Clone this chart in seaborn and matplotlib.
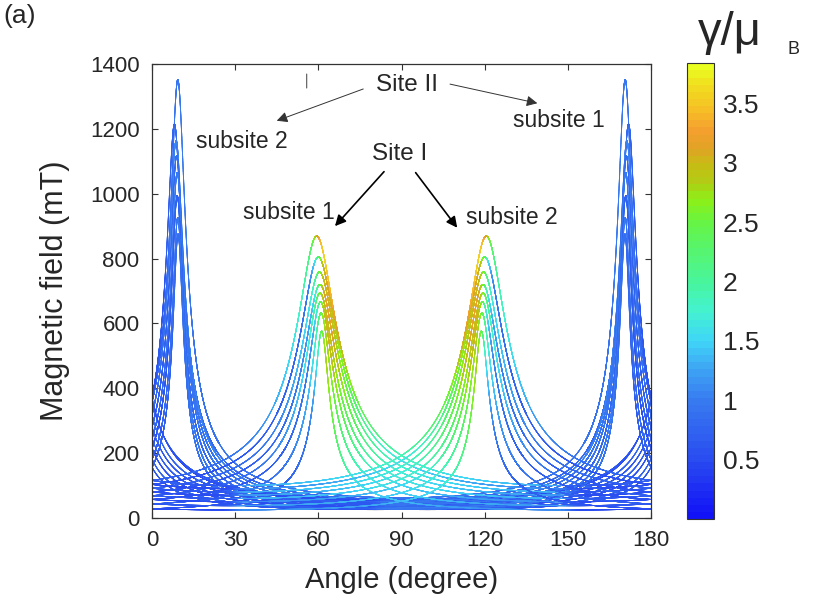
import numpy as np
import pandas as pd
import matplotlib
matplotlib.use("Agg")
import matplotlib.pyplot as plt
import seaborn as sns
from matplotlib.colors import LinearSegmentedColormap, Normalize
from matplotlib.cm import ScalarMappable

# Site I, subsite 1 (peaks near 60 deg). Subsite 2 is its mirror image near 120 deg.
site1_center = [59.4, 60.0, 60.4, 60.6, 60.6, 60.8, 61.0, 61.2]
site1_peak = [869, 805, 758, 720, 694, 666, 632, 576]
site1_floor = [100, 90, 80, 70, 60, 50, 38, 25]
# gamma/muB: at the peak and at the floor, on the outer side
# (away from 90 deg) and the inner side (towards 90 deg)
site1_g_peak_out = [2.1, 1.0, 1.7, 1.3, 1.9, 1.2, 1.7, 1.4]
site1_g_peak_in = [3.84, 3.4, 3.3, 3.6, 3.3, 3.5, 3.2, 3.4]
site1_g_floor_out = [0.6, 0.5, 0.6, 0.5, 0.6, 0.5, 0.6, 0.5]
site1_g_floor_in = [1.3, 1.1, 1.3, 1.2, 1.3, 1.1, 1.2, 1.1]

# Site II, subsite 2 (peaks near 9 deg). Subsite 1 is its mirror image near 171 deg.
site2_center = [9.3, 8.1, 8.7, 8.9, 9.1, 9.1, 9.3, 9.4]
site2_peak = [1351, 1214, 1163, 1117, 1065, 993, 926, 875]
site2_floor = [60, 55, 50, 45, 40, 35, 30, 26]
site2_g_peak_out = [0.9, 0.7, 1.0, 0.8, 1.0, 0.7, 0.9, 0.8]
site2_g_peak_in = [1.0, 0.9, 1.1, 0.9, 1.0, 0.8, 1.0, 0.9]
site2_g_floor_out = [0.6, 0.5, 0.7, 0.6, 0.6, 0.5, 0.7, 0.6]
site2_g_floor_in = [0.9, 0.8, 1.0, 0.9, 0.9, 0.8, 1.0, 0.9]

x_ticks = [0, 30, 60, 90, 120, 150, 180]
y_ticks = [0, 200, 400, 600, 800, 1000, 1200, 1400]
cb_ticks = [0.5, 1, 1.5, 2, 2.5, 3, 3.5]
cb_labels = ["0.5", "1", "1.5", "2", "2.5", "3", "3.5"]

G_MAX = 3.84
cmap_nodes = [(0.0, "#1212f6"), (0.5, "#2a4ef0"), (1.0, "#387cf0"), (1.25, "#3ea4f4"),
              (1.5, "#40d6f8"), (1.75, "#44f2d0"), (2.0, "#48f59c"), (2.25, "#56f572"),
              (2.5, "#66f546"), (2.7, "#8cf018"), (2.85, "#b2cc14"), (3.0, "#c6bc14"),
              (3.15, "#e2a226"), (3.3, "#f5a030"), (3.5, "#f6c424"), (3.7, "#f0e01e"),
              (G_MAX, "#e8ff20")]
cmap = LinearSegmentedColormap.from_list(
    "gm", [(v / G_MAX, c) for v, c in cmap_nodes], N=64)
norm = Normalize(0, G_MAX)


def resonance(t, center, peak, floor):
    d = np.radians(t - center)
    return 1.0 / np.sqrt(np.cos(d) ** 2 / peak ** 2 + np.sin(d) ** 2 / floor ** 2)


def moment(t, center, field, peak, floor, gpo, gpi, gfo, gfi):
    d = np.radians(t - center)
    side = 0.5 * (1 + np.tanh(np.sin(2 * d) / 0.08))
    frac = ((field - floor) / (peak - floor)) ** 0.7
    g_floor = gfo + (gfi - gfo) * side
    g_peak = gpo + (gpi - gpo) * side
    return g_floor + (g_peak - g_floor) * frac


sites = [
    ("II", site2_center, site2_peak, site2_floor, site2_g_peak_out, site2_g_peak_in,
     site2_g_floor_out, site2_g_floor_in),
    ("I", site1_center, site1_peak, site1_floor, site1_g_peak_out, site1_g_peak_in,
     site1_g_floor_out, site1_g_floor_in),
]

frames = []
for name, cen, pk, fl, gpo, gpi, gfo, gfi in sites:
    for mirror in (False, True):
        for i in range(len(cen)):
            t = np.concatenate([np.linspace(0, 180, 8000),
                                np.linspace(max(cen[i] - 15, 0), min(cen[i] + 15, 180), 8000)])
            t = np.sort(t)
            field = resonance(t, cen[i], pk[i], fl[i])
            gam = moment(t, cen[i], field, pk[i], fl[i], gpo[i], gpi[i], gfo[i], gfi[i])
            angle = 180 - t if mirror else t
            frames.append(pd.DataFrame({"angle": angle, "field": field,
                                        "gamma": np.round(np.clip(gam, 0, G_MAX), 2)}))
df = pd.concat(frames, ignore_index=True)

sns.set_style("ticks")
plt.rcParams["font.family"] = ["Liberation Sans", "DejaVu Sans"]

fig = plt.figure(figsize=(8.13, 6.04), dpi=100)
ax = fig.add_axes([152 / 813, 86 / 604, 499 / 813, 454 / 604])

sns.scatterplot(data=df, x="angle", y="field", hue="gamma", palette=cmap, hue_norm=norm,
                s=0.45, linewidth=0, legend=False, ax=ax)

ax.set_xlim(0, 180)
ax.set_ylim(0, 1400)
ax.set_xticks(x_ticks)
ax.set_yticks(y_ticks)
ax.tick_params(axis="both", direction="in", top=True, right=True, length=4, width=0.8,
               labelsize=16, pad=9, color="#333333")
for sp in ax.spines.values():
    sp.set_color("#333333")
    sp.set_linewidth(0.9)
ax.set_xlabel("Angle (degree)", fontsize=21)
ax.set_ylabel("Magnetic field (mT)", fontsize=22)
ax.xaxis.set_label_coords(0.5, -0.105)
ax.yaxis.set_label_coords(-0.164, 0.5)

# annotations
ax.text(92.0, 1316, "Site II", fontsize=17.5, ha="center", va="baseline")
ax.text(89.4, 1104, "Site I", fontsize=17.5, ha="center", va="baseline")
ax.text(146.9, 1207, "subsite 1", fontsize=16.5, ha="center", va="baseline")
ax.text(32.4, 1142, "subsite 2", fontsize=16.5, ha="center", va="baseline")
ax.text(49.4, 921, "subsite 1", fontsize=16.5, ha="center", va="baseline")
ax.text(129.9, 907, "subsite 2", fontsize=16.5, ha="center", va="baseline")

thin = dict(arrowstyle="-|>", color="#333333", lw=0.7, mutation_scale=16, shrinkA=0, shrinkB=0)
bold = dict(arrowstyle="-|>", color="black", lw=1.2, mutation_scale=16, shrinkA=0, shrinkB=0)
ax.annotate("", xy=(45.0, 1225), xytext=(76.2, 1323), arrowprops=thin)
ax.annotate("", xy=(139.0, 1279), xytext=(107.5, 1338), arrowprops=thin)
ax.annotate("", xy=(66.0, 900), xytext=(83.7, 1068), arrowprops=bold)
ax.annotate("", xy=(110.1, 895), xytext=(95.1, 1065), arrowprops=bold)
ax.annotate("", xy=(55.8, 1326), xytext=(55.8, 1369),
            arrowprops=dict(arrowstyle="-", color="#555555", lw=0.8, shrinkA=0, shrinkB=0))

# colour bar
cax = fig.add_axes([686.7 / 813, 85 / 604, 27.6 / 813, 455.7 / 604])
cb = fig.colorbar(ScalarMappable(norm=norm, cmap=cmap), cax=cax)
cb.set_ticks(cb_ticks)
cb.set_ticklabels(cb_labels)
cax.tick_params(direction="in", length=4, width=0.8, labelsize=19, pad=6, color="#333333")
cb.outline.set_edgecolor("#333333")
cb.outline.set_linewidth(0.8)

fig.text(698 / 813, 1 - 45 / 604, "γ/μ", fontsize=34, ha="left", va="baseline")
fig.text(787 / 813, 1 - 54 / 604, "B", fontsize=13, ha="left", va="baseline")
fig.text(3 / 813, 1 - 4 / 604, "(a)", fontsize=19, ha="left", va="top")

fig.savefig("out.png", dpi=100)
